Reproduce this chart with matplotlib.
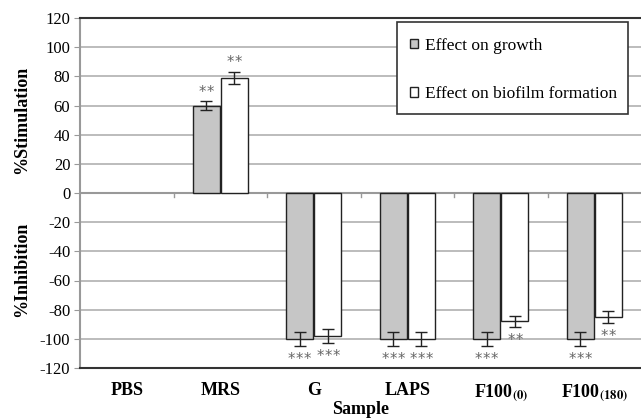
import matplotlib
matplotlib.use("Agg")
import matplotlib.pyplot as plt
import numpy as np
from matplotlib.patches import Patch, Rectangle

plt.rcParams['font.family'] = 'Liberation Serif'
plt.rcParams['mathtext.fontset'] = 'stix'

categories = ['PBS', 'MRS', 'G', 'LAPS', r'F100$_{\mathbf{(0)}}$', r'F100$_{\mathbf{(180)}}$']
growth = [np.nan, 60, -100, -100, -100, -100]
growth_err = [np.nan, 3, 5, 5, 5, 5]
biofilm = [np.nan, 79, -98, -100, -88, -85]
biofilm_err = [np.nan, 4, 5, 5, 4, 4]
growth_sig = ['', '**', '***', '***', '***', '***']
biofilm_sig = ['', '**', '***', '***', '**', '**']
yticks = list(range(-120, 121, 20))

fig = plt.figure(figsize=(6.41, 4.2), dpi=100)
ax = fig.add_axes([80/641, 52/420, 561/641, 350/420])

x = np.arange(len(categories))
w = 0.29
off = w / 2 + 0.005
ax.bar(x - off, growth, w, color='#c6c6c6', edgecolor='#222222', linewidth=1.0, zorder=3)
ax.bar(x + off, biofilm, w, color='white', edgecolor='#222222', linewidth=1.0, zorder=3)
ax.errorbar(x - off, growth, yerr=growth_err, fmt='none', ecolor='#222222', elinewidth=1.0, capsize=4, capthick=1.0, zorder=4)
ax.errorbar(x + off, biofilm, yerr=biofilm_err, fmt='none', ecolor='#222222', elinewidth=1.0, capsize=4, capthick=1.0, zorder=4)

px = 72 / 100.0  # points per pixel
def annotate(xs, vals, errs, sigs):
    for xi, v, e, s in zip(xs, vals, errs, sigs):
        if not s:
            continue
        n = len(s)
        spacing = 8.0
        if v > 0:
            y = v + e
            dy = 4.5 * px
        else:
            y = v - e
            dy = -18.0 * px
        for k in range(n):
            dx = (k - (n - 1) / 2) * spacing * px
            ax.annotate('*', (xi, y), xytext=(dx, dy), textcoords='offset points',
                        ha='center', va='baseline', fontsize=10.5,
                        family='DejaVu Sans', color='#666666', zorder=5)

annotate(x - off, growth, growth_err, growth_sig)
annotate(x + off, biofilm, biofilm_err, biofilm_sig)

ax.set_xlim(-0.5, len(categories) - 0.5)
ax.set_ylim(-120, 120)
ax.set_yticks(yticks)
ax.set_yticklabels([str(t) for t in yticks], fontsize=12)
ax.yaxis.grid(True, color='#b0b0b0', linewidth=1.2, zorder=0)
ax.set_axisbelow(True)
ax.tick_params(axis='y', length=4, color='#999999', pad=3)
ax.tick_params(axis='x', length=0, pad=10)

ax.axhline(0, color='#999999', linewidth=1.5, zorder=2)
for b in np.arange(0.5, len(categories) - 0.5, 1.0):
    ax.plot([b, b], [0, -3], color='#999999', linewidth=1.0, zorder=2)

ax.set_xticks(x)
ax.set_xticklabels(categories, fontsize=13, fontweight='bold')

ax.spines['left'].set_color('#999999')
ax.spines['left'].set_linewidth(1.5)
ax.spines['right'].set_visible(False)
ax.spines['top'].set_color('#333333')
ax.spines['top'].set_linewidth(1.5)
ax.spines['bottom'].set_color('#333333')
ax.spines['bottom'].set_linewidth(1.5)

fig.text((80 + 561/2)/641, 1 - 409/420, 'Sample', ha='center', va='center',
         fontsize=13, fontweight='bold')
fig.text(22/641, 1 - 120/420, '%Stimulation', rotation=90, ha='center', va='center',
         fontsize=13, fontweight='bold')
fig.text(22/641, 1 - 269/420, '%Inhibition', rotation=90, ha='center', va='center',
         fontsize=13, fontweight='bold')

# legend frame
x0 = (397 - 80) / 561
x1 = (628 - 80) / 561
y1 = (368 - 22) / 350
y0 = (368 - 114) / 350
ax.add_patch(Rectangle((x0, y0), x1 - x0, y1 - y0, transform=ax.transAxes,
                       facecolor='white', edgecolor='#333333', linewidth=1.2, zorder=6,
                       clip_on=False))

handles = [Patch(facecolor='#c6c6c6', edgecolor='#222222', label='Effect on growth'),
           Patch(facecolor='white', edgecolor='#222222', label='Effect on biofilm formation')]
leg = ax.legend(handles=handles, loc='upper left',
                bbox_to_anchor=((410 - 80) / 561, (368 - 38) / 350),
                fontsize=12.5, frameon=False, handlelength=0.45, handleheight=0.45,
                handletextpad=0.4, labelspacing=1.85, borderpad=0, borderaxespad=0)
leg.set_zorder(7)

fig.savefig('out.png', dpi=100)
